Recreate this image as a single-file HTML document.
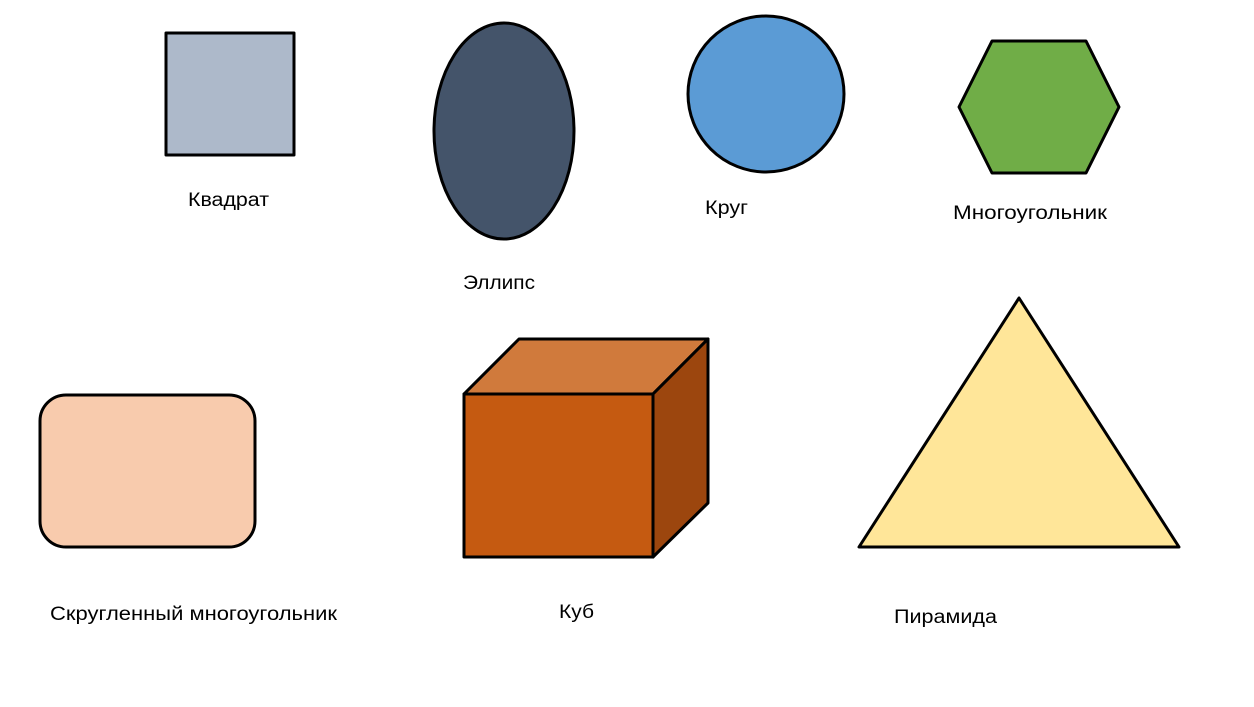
<!DOCTYPE html>
<html><head><meta charset="utf-8"><style>
html,body{margin:0;padding:0;background:#fff;}
svg{display:block;}
text{font-family:"Liberation Sans","DejaVu Sans",sans-serif;font-size:19px;fill:#000;}
</style></head><body>
<svg width="1254" height="707" viewBox="0 0 1254 707">
<g stroke="#000" stroke-width="3" stroke-linejoin="round">
<rect x="166" y="33" width="128" height="122" fill="#ADB9CA"/>
<ellipse cx="504" cy="131" rx="70" ry="108" fill="#44546A"/>
<circle cx="766" cy="94" r="78" fill="#5B9BD5"/>
<polygon points="959,107 992,41 1086,41 1119,107 1086,173 992,173" fill="#70AD47"/>
<rect x="40" y="395" width="215" height="152" rx="26" ry="26" fill="#F8CBAD"/>
<g>
<polygon points="464,394 519,339 708,339 653,394" fill="#D07A3C"/>
<polygon points="653,394 708,339 708,503 653,557" fill="#9C460E"/>
<rect x="464" y="394" width="189" height="163" fill="#C55A11"/>
</g>
<polygon points="1019,298 859,547 1179,547" fill="#FFE699"/>
</g>
<text x="188" y="206" textLength="81" lengthAdjust="spacingAndGlyphs">Квадрат</text>
<text x="463" y="289" textLength="72" lengthAdjust="spacingAndGlyphs">Эллипс</text>
<text x="705" y="214" textLength="43" lengthAdjust="spacingAndGlyphs">Круг</text>
<text x="953" y="219" textLength="154" lengthAdjust="spacingAndGlyphs">Многоугольник</text>
<text x="50" y="620" textLength="287" lengthAdjust="spacingAndGlyphs">Скругленный многоугольник</text>
<text x="559" y="618" textLength="35" lengthAdjust="spacingAndGlyphs">Куб</text>
<text x="894" y="623" textLength="103" lengthAdjust="spacingAndGlyphs">Пирамида</text>
</svg>
</body></html>
